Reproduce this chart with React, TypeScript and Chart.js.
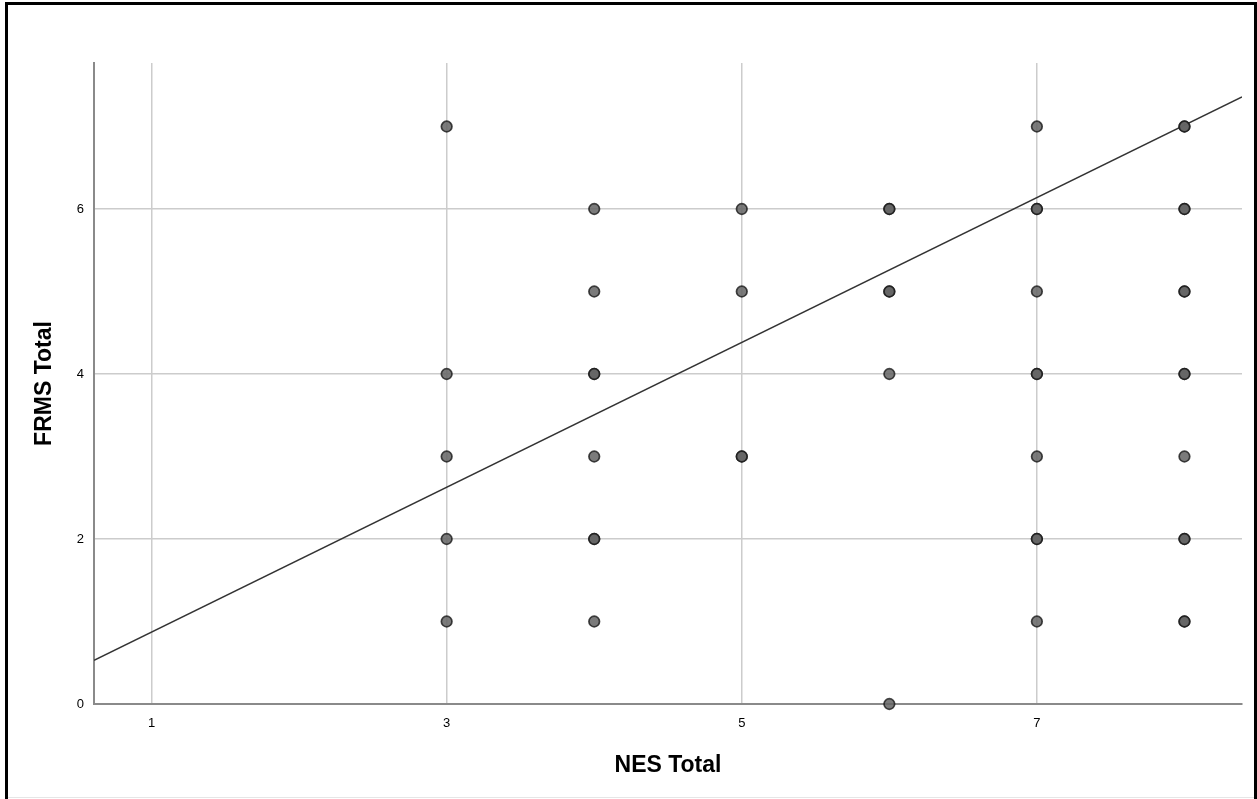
import React, { useEffect, useRef } from "react";
import { Chart, registerables } from "chart.js";

Chart.register(...registerables);

// NES Total (x) and FRMS Total (y); repeated pairs are overlapping cases
const nesX: number[] = [
  3, 3, 3, 3, 3,
  4, 4, 4, 4, 4, 4, 4, 4,
  5, 5, 5, 5,
  6, 6, 6, 6, 6, 6,
  7, 7, 7, 7, 7, 7, 7, 7, 7, 7,
  8, 8, 8, 8, 8, 8, 8, 8, 8, 8, 8, 8, 8,
];
const frmsY: number[] = [
  7, 4, 3, 2, 1,
  6, 5, 4, 4, 3, 2, 2, 1,
  6, 5, 3, 3,
  6, 6, 5, 5, 4, 0,
  7, 6, 6, 5, 4, 4, 3, 2, 2, 1,
  7, 7, 6, 6, 5, 5, 4, 4, 3, 2, 2, 1, 1,
];

// fit line end points
const fitX: number[] = [0.61, 8.39];
const fitY: number[] = [0.53, 7.36];

const xTicks: number[] = [1, 3, 5, 7];
const yTicks: number[] = [0, 2, 4, 6];

const xTitle = "NES Total";
const yTitle = "FRMS Total";

export default function App() {
  const ref = useRef<HTMLCanvasElement | null>(null);

  useEffect(() => {
    if (!ref.current) return;
    const framePlugin = {
      id: "frame",
      afterDraw(chart: any) {
        const ctx = chart.ctx;
        ctx.save();
        ctx.fillStyle = "#000";
        ctx.fillRect(5, 2, 3, 797);
        ctx.fillRect(5, 2, 1252, 3);
        ctx.fillRect(1254, 2, 3, 797);
        ctx.fillStyle = "#e6e6e6";
        ctx.fillRect(8, 797, 1246, 1);
        ctx.restore();
      },
    };
    const chart = new Chart(ref.current, {
      type: "scatter",
      data: {
        datasets: [
          {
            type: "line",
            data: fitX.map((x, i) => ({ x, y: fitY[i] })),
            borderColor: "#333333",
            borderWidth: 1.5,
            pointRadius: 0,
            fill: false,
            order: 2,
          } as any,
          {
            data: nesX.map((x, i) => ({ x, y: frmsY[i] })),
            backgroundColor: "rgba(100,100,100,0.85)",
            borderColor: "rgba(25,25,25,0.8)",
            borderWidth: 1.7,
            pointRadius: 5.3,
            clip: false,
            order: 1,
          },
        ],
      },
      options: {
        animation: false,
        responsive: false,
        events: [],
        layout: { padding: { top: 63, right: 15, left: 0, bottom: 0 } },
        plugins: { legend: { display: false }, tooltip: { enabled: false } },
        scales: {
          x: {
            type: "linear",
            min: 0.61,
            max: 8.39,
            afterBuildTicks: (s: any) => {
              s.ticks = xTicks.map((v) => ({ value: v }));
            },
            afterFit: (s: any) => {
              s.height = 95;
            },
            grid: { color: "#cccccc", lineWidth: 1.5, drawTicks: false },
            border: { display: true, color: "#8a8a8a", width: 2 },
            ticks: {
              padding: 12,
              color: "#000",
              font: { family: "'Liberation Sans', Arial, sans-serif", size: 13 },
              maxRotation: 0,
            },
            title: {
              display: true,
              text: xTitle,
              color: "#000",
              font: { family: "'Liberation Sans', Arial, sans-serif", size: 23, weight: "bold" },
              padding: { top: 0, bottom: 20 },
            },
          },
          y: {
            type: "linear",
            min: 0,
            max: 7.77,
            afterBuildTicks: (s: any) => {
              s.ticks = yTicks.map((v) => ({ value: v }));
            },
            afterFit: (s: any) => {
              s.width = 94;
            },
            grid: {
              color: (c: any) => (c.tick && c.tick.value === 0 ? "rgba(0,0,0,0)" : "#cccccc"),
              lineWidth: 1.5,
              drawTicks: false,
            },
            border: { display: true, color: "#8a8a8a", width: 2 },
            ticks: {
              padding: 10,
              color: "#000",
              font: { family: "'Liberation Sans', Arial, sans-serif", size: 13 },
            },
            title: {
              display: true,
              text: yTitle,
              color: "#000",
              font: { family: "'Liberation Sans', Arial, sans-serif", size: 23, weight: "bold" },
              padding: { top: 31, bottom: 0 },
            },
          },
        },
      },
      plugins: [framePlugin],
    } as any);
    return () => chart.destroy();
  }, []);

  return (
    <div style={{ position: "fixed", left: 0, top: 0, width: 1257, height: 799, background: "#fff" }}>
      <canvas ref={ref} width={1257} height={799} style={{ display: "block" }} />
    </div>
  );
}
